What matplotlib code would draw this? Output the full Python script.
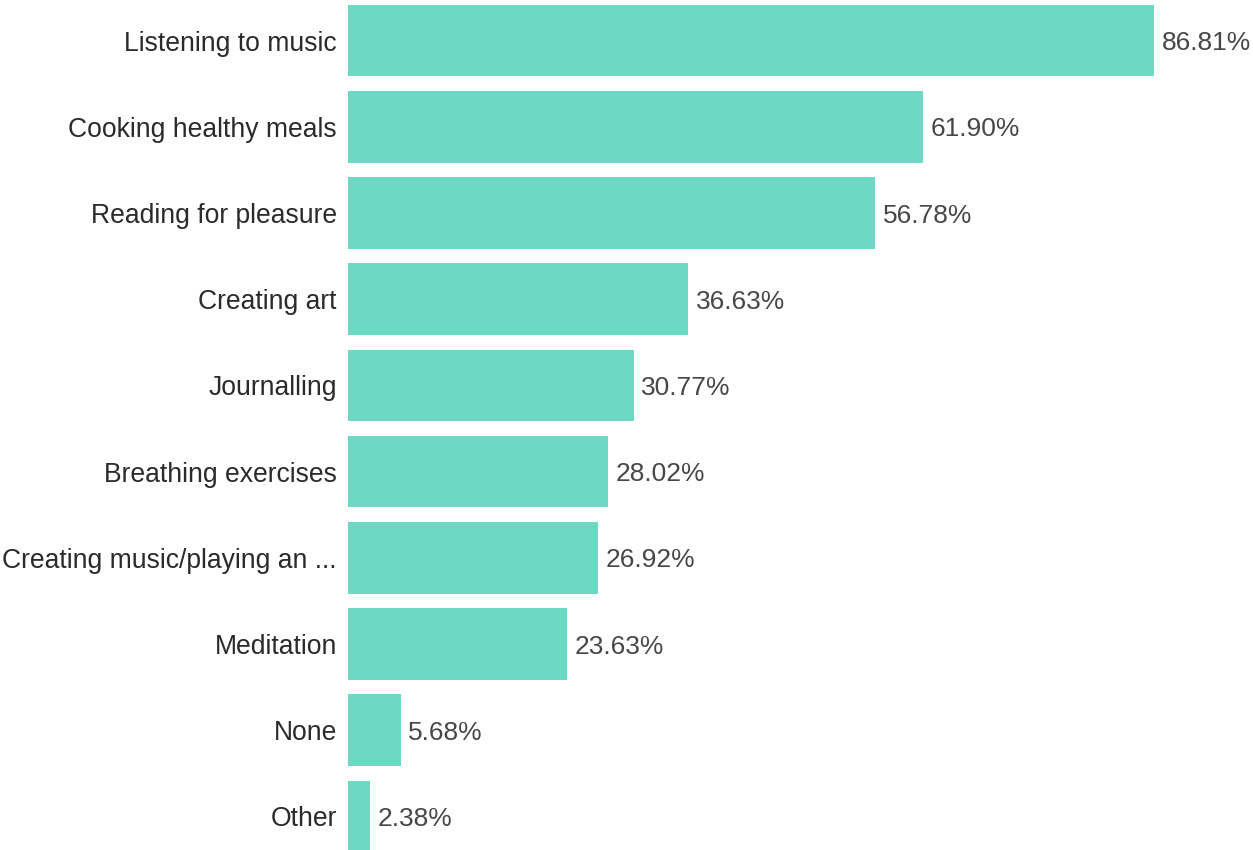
import matplotlib.pyplot as plt

categories = [
    "Listening to music",
    "Cooking healthy meals",
    "Reading for pleasure",
    "Creating art",
    "Journalling",
    "Breathing exercises",
    "Creating music/playing an ...",
    "Meditation",
    "None",
    "Other",
]
values = [86.81, 61.90, 56.78, 36.63, 30.77, 28.02, 26.92, 23.63, 5.68, 2.38]

bar_color = "#6dd9c5"
plt.rcParams["font.family"] = ["Liberation Sans", "DejaVu Sans"]

fig = plt.figure(figsize=(12.53, 8.5), dpi=100)
ax = fig.add_axes([348 / 1253, 0, 1 - 348 / 1253, 1])

pos = list(range(len(categories)))
ax.barh(pos, values, height=0.83, color=bar_color)

# percentage labels just right of each bar
for p, v in zip(pos, values):
    ax.text(v + 0.8, p + 0.03, f"{v:.2f}%", va="center", ha="left",
            fontsize=19.0, color="#474747")

ax.set_yticks(pos)
ax.set_yticklabels(categories, fontsize=19.1, color="#2b2b2b")
ax.tick_params(axis="y", length=0, pad=8)
ax.set_xticks([])
ax.set_xlim(0, 97.47)
ax.set_ylim(9.39, -0.47)
for s in ax.spines.values():
    s.set_visible(False)

fig.savefig("out.png", dpi=100)
